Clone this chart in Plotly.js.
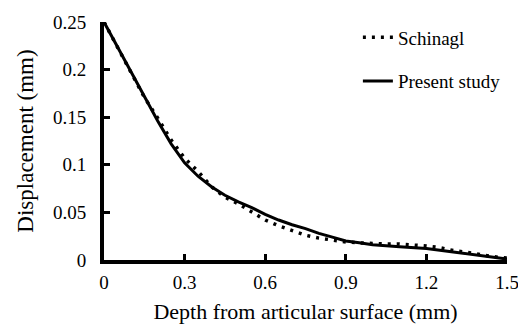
<!DOCTYPE html>
<html>
<head>
<meta charset="utf-8">
<script src="https://cdn.plot.ly/plotly-3.0.1.min.js"></script>
<style>html,body{margin:0;padding:0;background:#fff;}#chart{width:518px;height:324px;}</style>
</head>
<body>
<div id="chart"></div>
<script>
var schinaglDepth = [0, 0.05, 0.1, 0.15, 0.2, 0.25, 0.3, 0.35, 0.4, 0.45, 0.5, 0.55, 0.6, 0.65, 0.7, 0.75, 0.8, 0.85, 0.9, 0.95, 1.0, 1.05, 1.1, 1.15, 1.2, 1.25, 1.3, 1.35, 1.4, 1.45, 1.5];
var schinaglDisp = [0.25, 0.224, 0.198, 0.171, 0.149, 0.126, 0.107, 0.093, 0.077, 0.066, 0.059, 0.050, 0.042, 0.036, 0.031, 0.026, 0.023, 0.021, 0.019, 0.018, 0.017, 0.0168, 0.0168, 0.016, 0.0147, 0.013, 0.010, 0.008, 0.0055, 0.0035, 0.002];
var presentDepth = [0, 0.05, 0.1, 0.15, 0.2, 0.25, 0.3, 0.35, 0.4, 0.45, 0.5, 0.55, 0.6, 0.65, 0.7, 0.75, 0.8, 0.85, 0.9, 0.95, 1.0, 1.1, 1.2, 1.3, 1.4, 1.5];
var presentDisp = [0.25, 0.224, 0.197, 0.171, 0.146, 0.122, 0.102, 0.088, 0.077, 0.068, 0.061, 0.055, 0.048, 0.042, 0.037, 0.033, 0.028, 0.024, 0.020, 0.018, 0.016, 0.014, 0.012, 0.0085, 0.0045, 0.001];
var xTicks = [0, 0.3, 0.6, 0.9, 1.2, 1.5];
var xTickText = ["0", "0.3", "0.6", "0.9", "1.2", "1.5"];
var yTicks = [0, 0.05, 0.1, 0.15, 0.2, 0.25];
var yTickText = ["0", "0.05", "0.1", "0.15", "0.2", "0.25"];

var serifFamily = "Times New Roman";
var traces = [
  {x: schinaglDepth, y: schinaglDisp, name: "Schinagl", mode: "lines", legendgroup: "a",
   line: {color: "#000", width: 3.5, dash: "3px,6px"}},
  {x: presentDepth, y: presentDisp, name: "Present study", mode: "lines", legendgroup: "b",
   line: {color: "#000", width: 3}}
];
var layout = {
  width: 518, height: 324,
  margin: {l: 104, r: 11, t: 22, b: 64},
  paper_bgcolor: "#fff", plot_bgcolor: "#fff",
  font: {family: serifFamily, size: 19, color: "#000"},
  showlegend: true,
  legend: {x: 0.63, y: 1.015, xanchor: "left", yanchor: "top", bgcolor: "rgba(0,0,0,0)",
           font: {family: serifFamily, size: 19, color: "#000"}, tracegroupgap: 16, itemwidth: 30},
  xaxis: {range: [0, 1.5], tickvals: xTicks, ticktext: xTickText, showgrid: false, zeroline: false,
          showline: true, linecolor: "#000", linewidth: 4, ticks: "inside", ticklen: 6, tickwidth: 3, tickcolor: "#000",
          tickfont: {family: serifFamily, size: 19, color: "#000"}, ticklabelstandoff: 2, ticklabeloverflow: "allow",
          title: {text: "Depth from articular surface (mm)", font: {family: serifFamily, size: 22, color: "#000"}, standoff: 13}},
  yaxis: {range: [0, 0.25], tickvals: yTicks, ticktext: yTickText, showgrid: false, zeroline: false,
          showline: true, linecolor: "#000", linewidth: 4, ticks: "inside", ticklen: 6, tickwidth: 3, tickcolor: "#000",
          tickfont: {family: serifFamily, size: 19, color: "#000"}, ticklabelstandoff: 10, ticklabeloverflow: "allow",
          title: {text: "Displacement (mm)", font: {family: serifFamily, size: 23, color: "#000"}, standoff: 14}}
};
Plotly.newPlot("chart", traces, layout, {displayModeBar: false, staticPlot: true});
</script>
</body>
</html>
